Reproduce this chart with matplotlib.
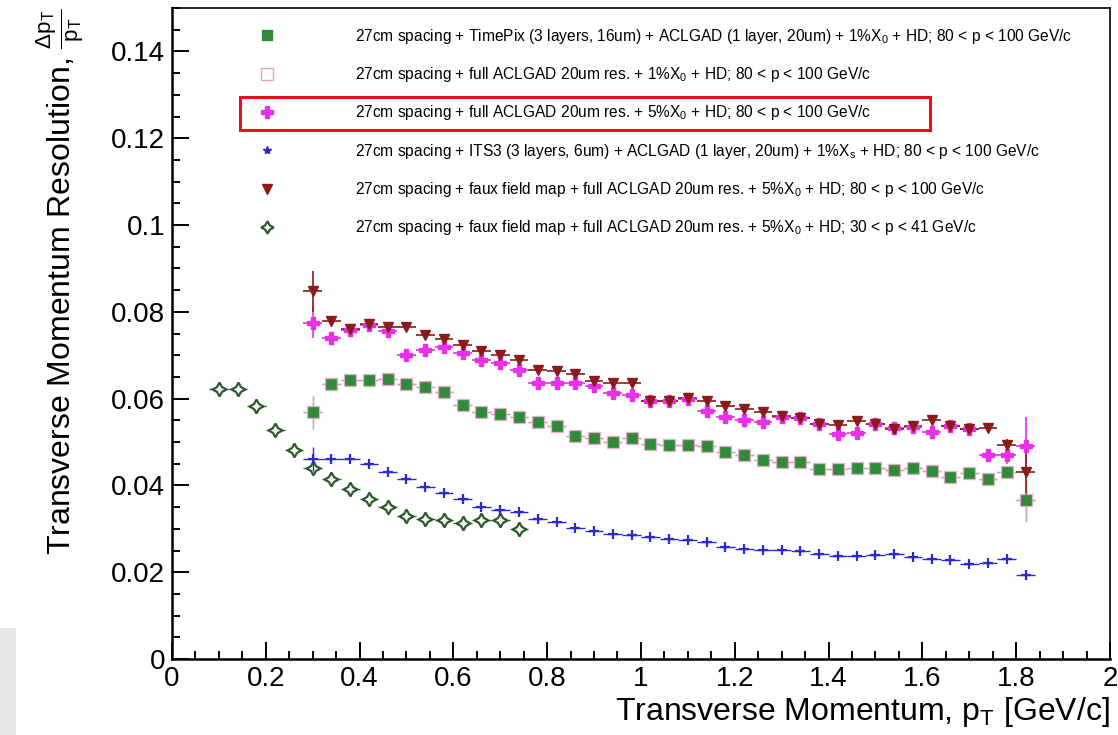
import numpy as np
import matplotlib.pyplot as plt
from matplotlib.patches import Rectangle
from matplotlib.lines import Line2D
from matplotlib.ticker import MultipleLocator, FuncFormatter

plt.rcParams['font.family'] = ['Liberation Sans', 'DejaVu Sans']
plt.rcParams['mathtext.default'] = 'regular'

# pT bin centres [GeV/c]
pt_bins = np.round(np.arange(0.30, 1.83, 0.04), 2)
pt_low = np.round(np.arange(0.10, 0.75, 0.04), 2)

# dpT/pT
timepix = [0.0569, 0.0634, 0.0643, 0.0643, 0.0645, 0.0634, 0.0626, 0.0615, 0.0586, 0.0569,
           0.0565, 0.0558, 0.0545, 0.0538, 0.0513, 0.0510, 0.0500, 0.0510, 0.0496, 0.0492,
           0.0494, 0.0490, 0.0478, 0.0469, 0.0459, 0.0454, 0.0454, 0.0437, 0.0437, 0.0440,
           0.0440, 0.0435, 0.0440, 0.0433, 0.0419, 0.0428, 0.0415, 0.0431, 0.0367]
timepix_err = [0.0038] + [0.0006] * 37 + [0.0050]

aclgad_1pct = timepix
aclgad_1pct_err = timepix_err

aclgad_5pct = [0.0775, 0.0739, 0.0757, 0.0770, 0.0756, 0.0700, 0.0713, 0.0720, 0.0705, 0.0689,
               0.0681, 0.0665, 0.0637, 0.0637, 0.0637, 0.0630, 0.0612, 0.0609, 0.0595, 0.0595,
               0.0599, 0.0572, 0.0557, 0.0551, 0.0546, 0.0557, 0.0555, 0.0542, 0.0519, 0.0520,
               0.0542, 0.0533, 0.0534, 0.0523, 0.0538, 0.0530, 0.0469, 0.0469, 0.0490]
aclgad_5pct_err = [0.0036] + [0.0007] * 35 + [0.0010, 0.0020, 0.0067]

its3 = [0.0461, 0.0461, 0.0461, 0.0450, 0.0432, 0.0414, 0.0396, 0.0382, 0.0369, 0.0350,
        0.0343, 0.0339, 0.0322, 0.0315, 0.0303, 0.0295, 0.0289, 0.0285, 0.0280, 0.0277,
        0.0274, 0.0270, 0.0258, 0.0254, 0.0251, 0.0251, 0.0248, 0.0241, 0.0237, 0.0237,
        0.0239, 0.0241, 0.0235, 0.0231, 0.0228, 0.0220, 0.0221, 0.0231, 0.0193]
its3_err = [0.0027] + [0.0004] * 37 + [0.0008]

faux = [0.0847, 0.0779, 0.0760, 0.0772, 0.0764, 0.0766, 0.0746, 0.0737, 0.0724, 0.0710,
        0.0700, 0.0689, 0.0666, 0.0664, 0.0657, 0.0640, 0.0637, 0.0635, 0.0595, 0.0595,
        0.0602, 0.0595, 0.0582, 0.0576, 0.0569, 0.0559, 0.0555, 0.0542, 0.0540, 0.0548,
        0.0542, 0.0530, 0.0536, 0.0551, 0.0538, 0.0530, 0.0533, 0.0492, 0.0431]
faux_err = [0.0048] + [0.0007] * 36 + [0.0015, 0.0060]

faux_low = [0.0622, 0.0622, 0.0582, 0.0528, 0.0482, 0.0441, 0.0414, 0.0392, 0.0369,
            0.0350, 0.0329, 0.0323, 0.0320, 0.0314, 0.0321, 0.0321, 0.0300]
faux_low_err = [0.0005] * 17

labels = [
    r'27cm spacing + TimePix (3 layers, 16um) + ACLGAD (1 layer, 20um) + 1%X$_{0}$ + HD; 80 < p < 100 GeV/c',
    r'27cm spacing + full ACLGAD 20um res. + 1%X$_{0}$ + HD; 80 < p < 100 GeV/c',
    r'27cm spacing + full ACLGAD 20um res. + 5%X$_{0}$ + HD; 80 < p < 100 GeV/c',
    r'27cm spacing + ITS3 (3 layers, 6um) + ACLGAD (1 layer, 20um) + 1%X$_{s}$ + HD; 80 < p < 100 GeV/c',
    r'27cm spacing + faux field map + full ACLGAD 20um res. + 5%X$_{0}$ + HD; 80 < p < 100 GeV/c',
    r'27cm spacing + faux field map + full ACLGAD 20um res. + 5%X$_{0}$ + HD; 30 < p < 41 GeV/c',
]

green = '#2f8a3a'
pink = '#e8a0c4'
magenta = '#e830e8'
blue = '#2a2ad0'
darkred = '#8b1a1a'
dgreen = '#2a5a2a'
star4 = (4, 1, 0)

fig = plt.figure(figsize=(11.18, 7.35), dpi=100)
ax = fig.add_axes([0.1538, 0.1034, 0.8390, 0.8857])

# faint grey strip at the lower-left edge of the screenshot
fig.add_artist(Rectangle((0, 0), 0.014, 0.145, transform=fig.transFigure,
                         color='#e6e6e6', lw=0))

ax.errorbar(pt_low, faux_low, xerr=0.02, yerr=faux_low_err, fmt='none',
            ecolor=dgreen, elinewidth=1, capsize=0)
ax.plot(pt_low, faux_low, ls='', marker=star4, ms=10, mfc='white', mec=dgreen, mew=1.6)
ax.errorbar(pt_bins, its3, xerr=0.02, yerr=its3_err, fmt='+', ms=7, mew=1.6,
            color=blue, elinewidth=1, capsize=0)
ax.errorbar(pt_bins, timepix, xerr=0.02, yerr=timepix_err, fmt='s', ms=7,
            color=green, ecolor='#a0a090', elinewidth=1, capsize=0)
ax.errorbar(pt_bins, aclgad_1pct, xerr=0.02, yerr=aclgad_1pct_err, fmt='s', ms=9,
            mfc='none', mec=pink, mew=1, color=pink, elinewidth=1, capsize=0, alpha=0.8)
ax.errorbar(pt_bins, aclgad_5pct, xerr=0.02, yerr=aclgad_5pct_err, fmt='P', ms=9,
            color=magenta, elinewidth=1.2, capsize=0)
ax.errorbar(pt_bins, faux, xerr=0.02, yerr=faux_err, fmt='v', ms=7,
            color=darkred, elinewidth=1.2, capsize=0)

handles = [
    Line2D([], [], ls='', marker='s', ms=7, color=green),
    Line2D([], [], ls='', marker='s', ms=8, mfc='none', mec=pink, mew=1),
    Line2D([], [], ls='', marker='P', ms=8, color=magenta),
    Line2D([], [], ls='', marker='*', ms=6, color=blue),
    Line2D([], [], ls='', marker='v', ms=7, color=darkred),
    Line2D([], [], ls='', marker=star4, ms=9, mfc='none', mec=dgreen, mew=1.6),
]
ax.legend(handles, labels, loc='upper left', bbox_to_anchor=(0.0935, 0.971),
          frameon=False, fontsize=11.2, handlelength=1.0, handletextpad=5.1,
          labelspacing=1.24, borderpad=0, borderaxespad=0)

fig.add_artist(Rectangle((0.2147, 0.8231), 0.617, 0.0449, transform=fig.transFigure,
                         fill=False, ec='#e8101a', lw=2.2))

ax.set_xlim(0, 2)
ax.set_ylim(0, 0.15)
ax.xaxis.set_major_locator(MultipleLocator(0.2))
ax.xaxis.set_minor_locator(MultipleLocator(0.05))
ax.yaxis.set_major_locator(MultipleLocator(0.02))
ax.yaxis.set_minor_locator(MultipleLocator(0.005))
fmt = FuncFormatter(lambda v, p: '%g' % round(v, 4))
ax.xaxis.set_major_formatter(fmt)
ax.yaxis.set_major_formatter(fmt)
ax.tick_params(which='both', direction='in', top=False, right=False, labelsize=20, width=1.4)
ax.tick_params(which='major', length=12, pad=5)
ax.tick_params(which='minor', length=6)
for side in ['left', 'bottom']:
    ax.spines[side].set_linewidth(1.8)
for side in ['top', 'right']:
    ax.spines[side].set_linewidth(1.2)

ax.set_xlabel(r'Transverse Momentum, p$_{T}$ [GeV/c]', fontsize=23, loc='right', labelpad=2)
ax.set_ylabel(r'Transverse Momentum Resolution, $\frac{\Delta p_{T}}{p_{T}}$', fontsize=23,
              loc='top', labelpad=18)

fig.savefig('out.png', dpi=100)
